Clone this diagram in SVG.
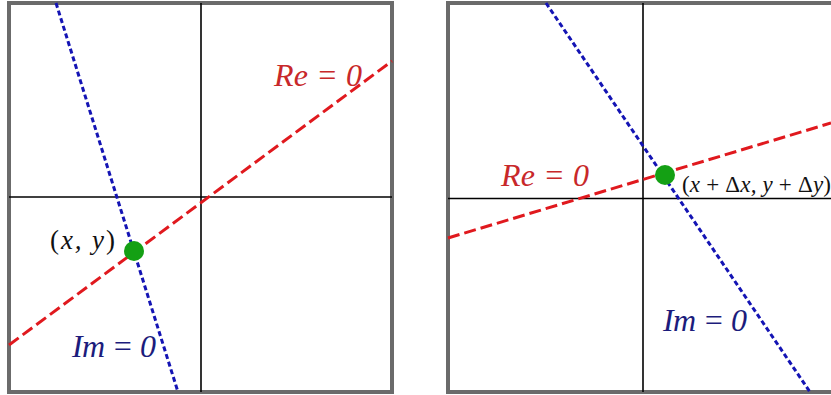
<svg xmlns="http://www.w3.org/2000/svg" width="831" height="395" viewBox="0 0 831 395">
<style>
.frame{fill:none;stroke:#6b6b6b;stroke-width:4}
.axis{stroke:#000;stroke-width:1.6;fill:none}
.re{stroke:#e0191e;stroke-width:3;stroke-dasharray:12 5;fill:none}
.im{stroke:#1414b4;stroke-width:3;stroke-dasharray:5 3;fill:none}
.dot{fill:#14a014}
.t{font-family:"Liberation Serif","DejaVu Serif",serif;font-style:italic}
.tre{fill:#c8282a;font-size:32px}
.tim{fill:#1c1c7c;font-size:32px}
.tpt{fill:#111;font-size:27px}
.up{font-style:normal}
</style>
<rect width="831" height="395" fill="#fff"/>
<g id="panel-left">
  <rect class="frame" x="9" y="3" width="383" height="389"/>
  <line class="axis" x1="201" y1="3" x2="201" y2="392"/>
  <line class="axis" x1="9" y1="197" x2="392" y2="197"/>
  <g id="connectors-left">
    <line class="re" x1="9" y1="345" x2="392" y2="61"/>
    <line class="im" x1="56" y1="3" x2="178" y2="392"/>
  </g>
  <g id="point-left"><circle class="dot" cx="134" cy="251" r="10"/></g>
  <text class="t tre" x="274" y="86" textLength="88" lengthAdjust="spacing">Re = 0</text>
  <text class="t tim" x="72" y="357" textLength="84" lengthAdjust="spacing">Im = 0</text>
  <text class="t tpt" x="50" y="249" textLength="65" lengthAdjust="spacing"><tspan class="up">(</tspan>x, y<tspan class="up">)</tspan></text>
</g>
<g id="panel-right">
  <rect class="frame" x="448" y="3" width="390" height="389"/>
  <line class="axis" x1="643" y1="3" x2="643" y2="392"/>
  <line class="axis" x1="448" y1="198.5" x2="831" y2="198.5"/>
  <g id="connectors-right">
    <line class="re" x1="448" y1="238" x2="831" y2="123"/>
    <line class="im" x1="546" y1="3" x2="810" y2="392"/>
  </g>
  <g id="point-right"><circle class="dot" cx="665" cy="175" r="10"/></g>
  <text class="t tre" x="501" y="186" textLength="88" lengthAdjust="spacing">Re = 0</text>
  <text class="t tim" x="663" y="331" textLength="84" lengthAdjust="spacing">Im = 0</text>
  <text class="t tpt" x="682" y="192" style="font-size:23px" textLength="149" lengthAdjust="spacing"><tspan class="up">(</tspan>x <tspan class="up">+ Δ</tspan>x, y <tspan class="up">+ Δ</tspan>y<tspan class="up">)</tspan></text>
</g>
</svg>
